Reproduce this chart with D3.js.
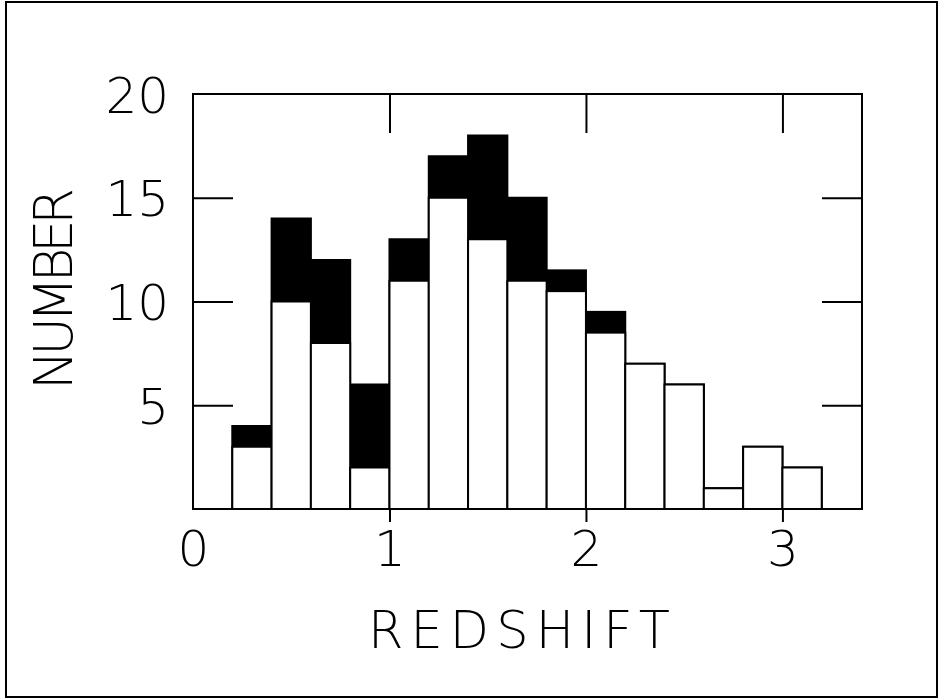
<!DOCTYPE html>
<html>
<head>
<meta charset="utf-8">
<script src="https://cdn.jsdelivr.net/npm/d3@7"></script>
<style>
  body { margin: 0; background: #fff; }
  text { font-family: "DejaVu Sans", "Liberation Sans", sans-serif; font-weight: 200; fill: #000; }
</style>
</head>
<body>
<script>
// histogram data: bin start, bin end, lower (white) count, total count
var binStart = [0.2, 0.4, 0.6, 0.8, 1.0, 1.2, 1.4, 1.6, 1.8, 2.0, 2.2, 2.4, 2.6, 2.8, 3.0];
var binEnd   = [0.4, 0.6, 0.8, 1.0, 1.2, 1.4, 1.6, 1.8, 2.0, 2.2, 2.4, 2.6, 2.8, 3.0, 3.2];
var whiteCount = [3, 10, 8, 2, 11, 15, 13, 11, 10.5, 8.5, 7, 6, 1, 3, 2];
var totalCount = [4, 14, 12, 6, 13, 17, 18, 15, 11.5, 9.5, 7, 6, 1, 3, 2];
var xTicks = [0, 1, 2, 3];
var yTicks = [5, 10, 15, 20];

var W = 938, H = 699;
var margin = {top: 94, right: 76, bottom: 190, left: 193},
    width = 862 - margin.left,
    height = 509 - margin.top;

var svg = d3.select("body")
  .append("svg")
    .attr("width", W)
    .attr("height", H);

// outer frame
svg.append("rect")
  .attr("x", 6).attr("y", 2)
  .attr("width", 931).attr("height", 695)
  .attr("fill", "none")
  .attr("stroke", "#000")
  .attr("stroke-width", 2);

var g = svg.append("g")
  .attr("transform", "translate(" + margin.left + "," + margin.top + ")");

var x = d3.scaleLinear().domain([0, 3.405]).range([0, width]);
var y = d3.scaleLinear().domain([0, 20]).range([height, 0]);

var data = binStart.map(function(d, i) {
  return {x0: d, x1: binEnd[i], w: whiteCount[i], t: totalCount[i]};
});

// black upper portion (full bar)
g.selectAll(".total")
  .data(data)
  .enter()
  .append("rect")
    .attr("x", function(d) { return x(d.x0); })
    .attr("y", function(d) { return y(d.t); })
    .attr("width", function(d) { return x(d.x1) - x(d.x0); })
    .attr("height", function(d) { return height - y(d.t); })
    .attr("fill", "#000")
    .attr("stroke", "#000")
    .attr("stroke-width", 2);

// white lower portion
g.selectAll(".lower")
  .data(data)
  .enter()
  .append("rect")
    .attr("x", function(d) { return x(d.x0); })
    .attr("y", function(d) { return y(d.w); })
    .attr("width", function(d) { return x(d.x1) - x(d.x0); })
    .attr("height", function(d) { return height - y(d.w); })
    .attr("fill", "#fff")
    .attr("stroke", "#000")
    .attr("stroke-width", 2);

// frame around plot
g.append("rect")
  .attr("width", width).attr("height", height)
  .attr("fill", "none")
  .attr("stroke", "#000")
  .attr("stroke-width", 2);

// bottom axis: ticks out below the frame (none at 0)
var xb = g.append("g")
  .attr("transform", "translate(0," + height + ")")
  .call(d3.axisBottom(x).tickValues(xTicks).tickSizeInner(13).tickSizeOuter(0).tickPadding(8).tickFormat(d3.format("d")));
xb.select(".domain").remove();
xb.selectAll("line").attr("stroke-width", 2)
  .filter(function(d) { return d === 0; }).remove();
xb.selectAll("text").attr("font-size", 50).style("font-family", null);

// top ticks (inward)
var xt = g.append("g")
  .call(d3.axisBottom(x).tickValues(xTicks.slice(1)).tickSize(39).tickFormat(""));
xt.select(".domain").remove();
xt.selectAll("line").attr("stroke-width", 2);

// left axis
var yl = g.append("g")
  .call(d3.axisRight(y).tickValues(yTicks.slice(0, 3)).tickSize(40).tickFormat(""));
yl.select(".domain").remove();
yl.selectAll("line").attr("stroke-width", 2);

var ylab = g.append("g")
  .call(d3.axisLeft(y).tickValues(yTicks).tickSize(0).tickPadding(24).tickFormat(d3.format("d")));
ylab.select(".domain").remove();
ylab.selectAll("text").attr("font-size", 50).attr("dy", "0.36em").style("font-family", null);

// right ticks (inward)
var yr = g.append("g")
  .attr("transform", "translate(" + width + ",0)")
  .call(d3.axisLeft(y).tickValues(yTicks.slice(0, 3)).tickSize(40).tickFormat(""));
yr.select(".domain").remove();
yr.selectAll("line").attr("stroke-width", 2);

// axis titles
svg.append("text")
  .attr("x", 368).attr("y", 648)
  .attr("font-size", 51)
  .attr("textLength", 302)
  .attr("lengthAdjust", "spacing")
  .text("REDSHIFT");

svg.append("text")
  .attr("transform", "translate(72,390) rotate(-90)")
  .attr("font-size", 53)
  .attr("textLength", 202)
  .attr("lengthAdjust", "spacing")
  .text("NUMBER");
</script>
</body>
</html>
